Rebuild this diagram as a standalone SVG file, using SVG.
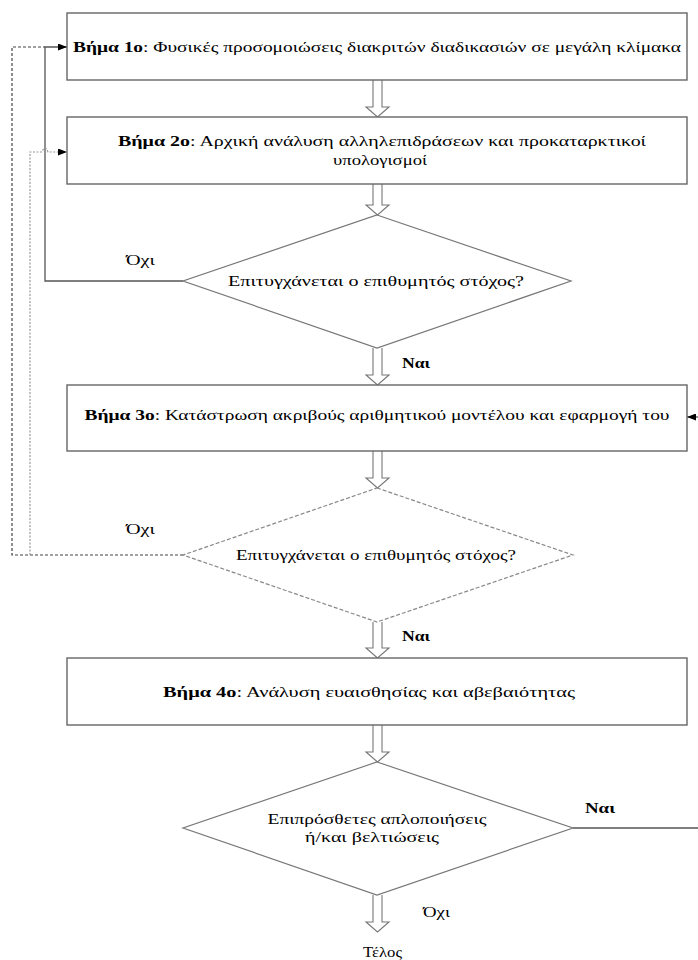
<svg xmlns="http://www.w3.org/2000/svg" width="698" height="960" viewBox="0 0 698 960">
<defs>
<style>
.box{fill:#fff;stroke:#666;stroke-width:1.4}
.dia{fill:#fff;stroke:#777;stroke-width:1.2}
.dia2{fill:#fff;stroke:#888;stroke-width:1.2;stroke-dasharray:4 2}
.barrow{fill:#fff;stroke:#777;stroke-width:1.1}
.t{font-family:"Liberation Serif","Times New Roman",serif;font-size:15px;fill:#000}
.b{font-weight:bold}
.c{text-anchor:middle}
.conn{fill:none;stroke:#555;stroke-width:1.3}
.dash{fill:none;stroke:#444;stroke-width:1.2;stroke-dasharray:3 2}
.dot{fill:none;stroke:#999;stroke-width:1.2;stroke-dasharray:2 1.5}
</style>
<marker id="ah" markerWidth="9" markerHeight="7" refX="9" refY="3.5" orient="auto" markerUnits="userSpaceOnUse">
<path d="M0,0 L9,3.5 L0,7 Z" fill="#000"/>
</marker>
</defs>
<rect width="698" height="960" fill="#fff"/>

<g id="connectors">
<path class="conn" d="M183,281 H45 V47 H67" marker-end="url(#ah)"/>
<path class="dash" d="M183,555 H12 V47 H45"/>
<path class="dot" d="M30,555 V152 H42 Q45,144 48,152 H67" marker-end="url(#ah)"/>
<path class="conn" d="M573,828 H698"/>
<path class="conn" d="M698,417 H687" marker-end="url(#ah)"/>
<path class="barrow" d="M373,80 V107 H366 L377.5,117 L389,107 H382 V80"/>
<path class="barrow" d="M373,184 V205 H366 L377.5,215 L389,205 H382 V184"/>
<path class="barrow" d="M373,348 V375 H366 L377.5,385 L389,375 H382 V348"/>
<path class="barrow" d="M373,451 V478 H366 L377.5,488 L389,478 H382 V451"/>
<path class="barrow" d="M373,622 V648 H366 L377.5,658 L389,648 H382 V622"/>
<path class="barrow" d="M373,725 V752 H366 L377.5,762 L389,752 H382 V725"/>
<path class="barrow" d="M373,895 V922 H366 L377.5,932 L389,922 H382 V895"/>
<text class="t" x="126" y="265" textLength="29" lengthAdjust="spacingAndGlyphs">Όχι</text>
<text class="t b" x="402" y="368" textLength="28" lengthAdjust="spacingAndGlyphs">Ναι</text>
<text class="t" x="126" y="534" textLength="29" lengthAdjust="spacingAndGlyphs">Όχι</text>
<text class="t b" x="402" y="641" textLength="28" lengthAdjust="spacingAndGlyphs">Ναι</text>
<text class="t b" x="585" y="813" textLength="30" lengthAdjust="spacingAndGlyphs">Ναι</text>
<text class="t" x="423" y="917" textLength="27" lengthAdjust="spacingAndGlyphs">Όχι</text>
<text class="t" x="363" y="957" textLength="39" lengthAdjust="spacingAndGlyphs">Τέλος</text>
</g>

<g id="step1">
<rect class="box" x="67" y="13" width="620" height="67"/>
<text class="t c" x="377" y="52" textLength="608" lengthAdjust="spacingAndGlyphs"><tspan class="b">Βήμα 1ο</tspan>: Φυσικές προσομοιώσεις διακριτών διαδικασιών σε μεγάλη κλίμακα</text>
</g>

<g id="step2">
<rect class="box" x="67" y="117" width="620" height="67"/>
<text class="t c" x="382" y="146" textLength="528" lengthAdjust="spacingAndGlyphs"><tspan class="b">Βήμα 2ο</tspan>: Αρχική ανάλυση αλληλεπιδράσεων και προκαταρκτικοί</text>
<text class="t c" x="380" y="165" textLength="94" lengthAdjust="spacingAndGlyphs">υπολογισμοί</text>
</g>

<g id="decision1">
<path class="dia" d="M377,215 L571,281 L377,348 L183,281 Z"/>
<text class="t c" x="376" y="286" textLength="296" lengthAdjust="spacingAndGlyphs">Επιτυγχάνεται ο επιθυμητός στόχος?</text>
</g>

<g id="step3">
<rect class="box" x="67" y="385" width="620" height="66"/>
<text class="t c" x="377" y="420" textLength="585" lengthAdjust="spacingAndGlyphs"><tspan class="b">Βήμα 3ο</tspan>: Κατάστρωση ακριβούς αριθμητικού μοντέλου και εφαρμογή του</text>
</g>

<g id="decision2">
<path class="dia2" d="M377,488 L573,555 L377,622 L183,555 Z"/>
<text class="t c" x="376" y="560" textLength="280" lengthAdjust="spacingAndGlyphs">Επιτυγχάνεται ο επιθυμητός στόχος?</text>
</g>

<g id="step4">
<rect class="box" x="67" y="658" width="620" height="67"/>
<text class="t c" x="369" y="697" textLength="412" lengthAdjust="spacingAndGlyphs"><tspan class="b">Βήμα 4ο</tspan>: Ανάλυση ευαισθησίας και αβεβαιότητας</text>
</g>

<g id="decision3">
<path class="dia" d="M377,762 L573,828 L377,895 L183,828 Z"/>
<text class="t c" x="377" y="824" textLength="219" lengthAdjust="spacingAndGlyphs">Επιπρόσθετες απλοποιήσεις</text>
<text class="t c" x="372" y="842" textLength="134" lengthAdjust="spacingAndGlyphs">ή/και βελτιώσεις</text>
</g>
</svg>
